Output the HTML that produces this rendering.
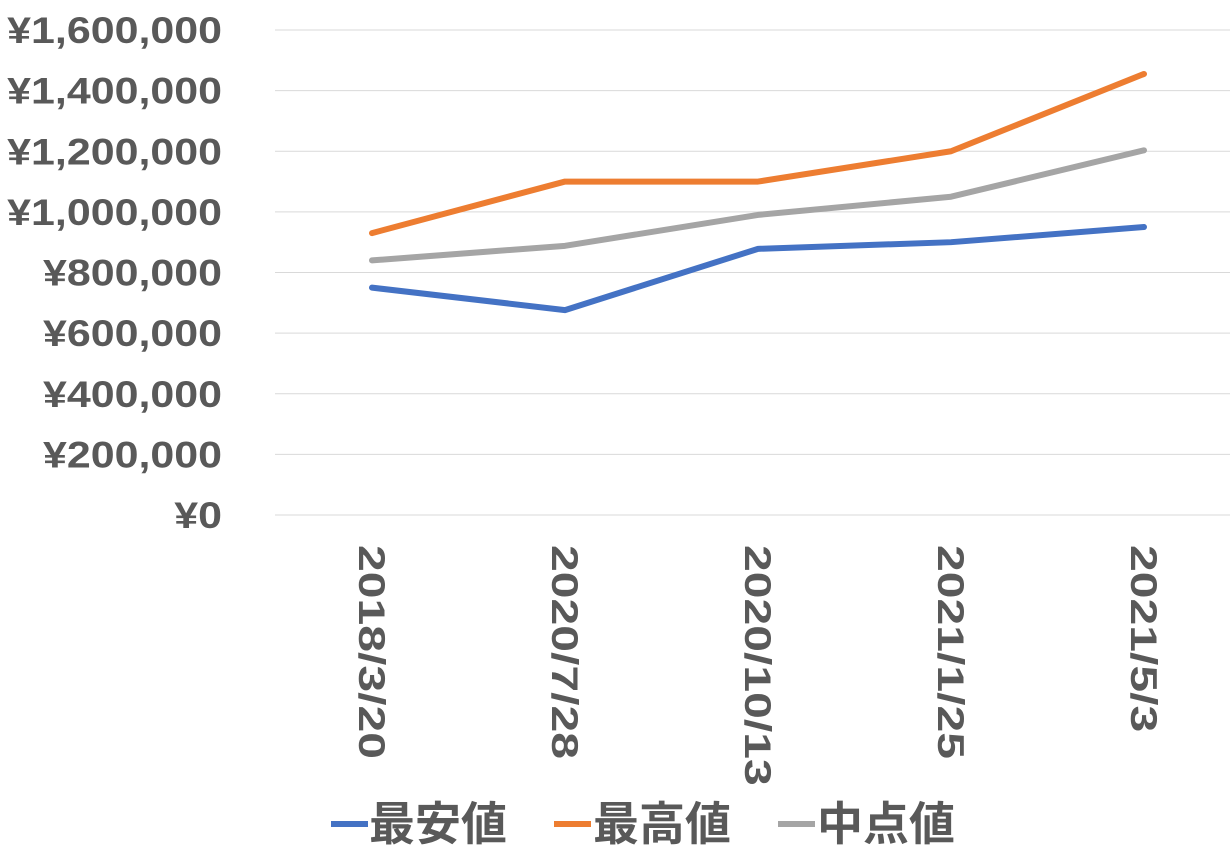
<!DOCTYPE html>
<html><head><meta charset="utf-8"><style>
body{margin:0;background:#fff}
svg text{font-family:"Liberation Sans","Noto Sans CJK JP",sans-serif;font-weight:bold;fill:#595959}
</style></head><body>
<svg id="chart" width="1230" height="853" xmlns="http://www.w3.org/2000/svg">
<g id="grid"></g><g id="ylab"></g><g id="xlab"></g><g id="lines"></g>
<g>
<line x1="331" y1="824" x2="368" y2="824" stroke="#4472C4" stroke-width="6"/>
<text x="369" y="840" font-size="46">最安値</text>
<line x1="554" y1="824" x2="591" y2="824" stroke="#ED7D31" stroke-width="6"/>
<text x="593" y="840" font-size="46">最高値</text>
<line x1="778" y1="824" x2="815" y2="824" stroke="#A5A5A5" stroke-width="6"/>
<text x="817" y="840" font-size="46">中点値</text>
</g>
</svg>
<script>
const categories=["2018/3/20","2020/7/28","2020/10/13","2021/1/25","2021/5/3"];
const minValues=[750000,676000,878000,900000,950000];
const maxValues=[930000,1100000,1100000,1200000,1455000];
const midValues=[840000,888000,990000,1050000,1203000];
const yTicks=[0,200000,400000,600000,800000,1000000,1200000,1400000,1600000];
const NS="http://www.w3.org/2000/svg";
const x0=275,x1=1230,y0=515,y1=30;
const yScale=v=>y0-(v/1600000)*(y0-y1);
const xScale=i=>372+i*193;
function mk(t,a,p){const e=document.createElementNS(NS,t);for(const k in a)e.setAttribute(k,a[k]);p.appendChild(e);return e;}
const grid=document.getElementById('grid'),yl=document.getElementById('ylab'),xl=document.getElementById('xlab'),ln=document.getElementById('lines');
yTicks.forEach(v=>{
 const g=mk('line',{x1:x0,x2:x1,y1:yScale(v),y2:yScale(v),stroke:'#d9d9d9','stroke-width':1},grid);
 
 
 const t=mk('text',{x:222,y:yScale(v)+13,'text-anchor':'end','font-size':37},yl);
 t.textContent='¥'+v.toLocaleString('en-US');
 
 
 const w=t.getComputedTextLength()*1.16;
 t.setAttribute('textLength',w);t.setAttribute('lengthAdjust','spacingAndGlyphs');
});
categories.forEach((c,i)=>{
 const x=xScale(i);
 const t=mk('text',{x:0,y:0,'font-size':37,transform:`translate(${x-13},545) rotate(90)`},xl);
 t.textContent=c;
 
 
 const w=t.getComputedTextLength()*1.3;
 t.setAttribute('textLength',w);t.setAttribute('lengthAdjust','spacingAndGlyphs');
});
[[minValues,'#4472C4','series-min'],[maxValues,'#ED7D31','series-max'],[midValues,'#A5A5A5','series-mid']].forEach(([d,col,n])=>{
 const p=mk('polyline',{points:d.map((v,i)=>xScale(i)+','+yScale(v)).join(' '),fill:'none',stroke:col,'stroke-width':6,'stroke-linecap':'round','stroke-linejoin':'round'},ln);
 
 
});
</script>
</body></html>
